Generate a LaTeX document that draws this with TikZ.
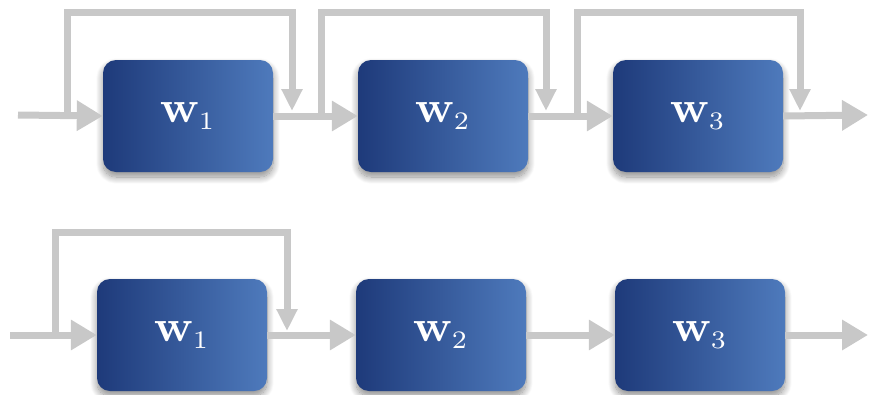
\documentclass[tikz,border=0pt]{standalone}
\usepackage{graphicx}
\usetikzlibrary{arrows.meta,shadows.blur}
\definecolor{wire}{RGB}{200,200,200}
\definecolor{blockdark}{RGB}{30,58,122}
\definecolor{blocklight}{RGB}{78,122,188}
\newcommand{\wlabel}[1]{\scalebox{4.7}[4.5]{$\mathbf{w}_{\scalebox{0.8}{$\scriptstyle #1$}}$}}
\tikzset{
  block/.style={rounded corners=13pt, minimum width=170pt, minimum height=112pt,
    left color=blockdark, right color=blocklight, draw=none, text=white,
    blur shadow={shadow xshift=0pt, shadow yshift=-5pt, shadow blur radius=7pt,
      shadow blur steps=12, shadow opacity=45}},
  flow/.style={draw=wire, line width=7pt, -{Triangle[length=26pt,width=29pt]}},
  fb/.style={draw=wire, line width=7pt, line join=miter, -{Triangle[length=22pt,width=20pt]}}
}
\begin{document}
\begin{tikzpicture}[x=1pt,y=-1pt]
\useasboundingbox (0,0) rectangle (871,394);

% upper chain: every block has a skip path around it
\node[block] (a1) at (188,116) {\wlabel{1}};
\node[block] (a2) at (443,116) {\wlabel{2}};
\node[block] (a3) at (698,116) {\wlabel{3}};

\coordinate (ain) at (18,115);
\coordinate (aout) at (868,115);
\coordinate (as1) at (67,115);  \coordinate (ae1) at (292,111);
\coordinate (as2) at (321,115); \coordinate (ae2) at (546,111);
\coordinate (as3) at (577,115); \coordinate (ae3) at (800,111);

\draw[flow] (ain) -- (a1.west);
\draw[flow] (a1.east) -- (a2.west);
\draw[flow] (a2.east) -- (a3.west);
\draw[flow] (a3.east) -- (aout);
\draw[fb] (as1) -- (as1 |- 0,12) -| (ae1);
\draw[fb] (as2) -- (as2 |- 0,12) -| (ae2);
\draw[fb] (as3) -- (as3 |- 0,12) -| (ae3);

% lower chain: only the first block is bypassed
\node[block] (b1) at (182,335) {\wlabel{1}};
\node[block] (b2) at (441,335) {\wlabel{2}};
\node[block] (b3) at (700,335) {\wlabel{3}};

\coordinate (bin) at (10,335);
\coordinate (bout) at (868,335);
\coordinate (bs1) at (55,335); \coordinate (be1) at (287,331);

\draw[flow] (bin) -- (b1.west);
\draw[flow] (b1.east) -- (b2.west);
\draw[flow] (b2.east) -- (b3.west);
\draw[flow] (b3.east) -- (bout);
\draw[fb] (bs1) -- (bs1 |- 0,232) -| (be1);
\end{tikzpicture}
\end{document}
